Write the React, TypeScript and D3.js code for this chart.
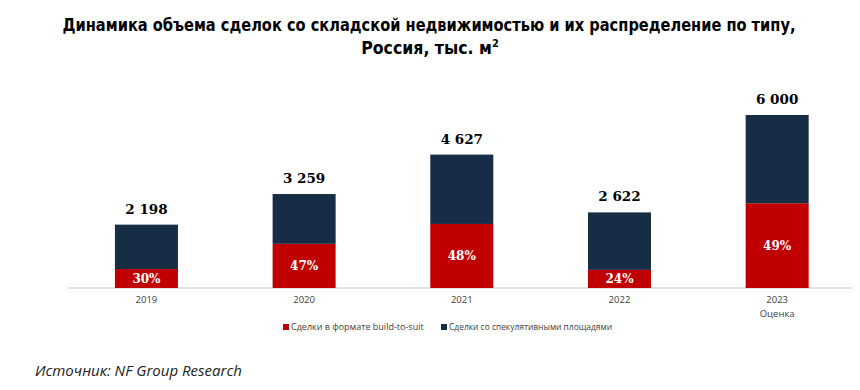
import React from "react";
import { scaleBand, scaleLinear, stack, format } from "d3";

const years = ["2019", "2020", "2021", "2022", "2023"];
const subLabels = ["", "", "", "", "Оценка"];
const totals = [2198, 3259, 4627, 2622, 6000];
const btsShare = [30, 47, 48, 24, 49];
const seriesNames = ["Сделки в формате build-to-suit", "Сделки со спекулятивными площадями"];
const colors = ["#c00000", "#172c45"];

const W = 860;
const H = 390;
const baseY = 288;

const fmt = (v: number) => format(",")(v).replace(/,/g, " ");

const App = () => {
  const rows = years.map((y, i) => {
    const bts = (totals[i] * btsShare[i]) / 100;
    return { year: y, bts, spec: totals[i] - bts };
  });

  // category slots, bars drawn 63px wide at the slot centres
  const xs = scaleBand().domain(years).range([67.6, 856]);
  const bw = 63;
  const y = scaleLinear().domain([0, 6000]).range([baseY, 115]);

  const layers = stack<any>().keys(["bts", "spec"])(rows);

  return (
    <svg width={W} height={H} style={{ position: "absolute", left: 0, top: 0, background: "#fff" }}>
      <g fontFamily="'Liberation Sans Narrow', 'DejaVu Sans Condensed', sans-serif" fontWeight="bold" fontSize="17.5" textAnchor="middle" fill="#000">
        <text x={429} y={31} textLength={733} lengthAdjust="spacingAndGlyphs">
          Динамика объема сделок со складской недвижимостью и их распределение по типу,
        </text>
        <text x={430} y={54}>
          Россия, тыс. м<tspan fontSize="11" dy="-7">2</tspan>
        </text>
      </g>

      <line x1={68} x2={852} y1={baseY} y2={baseY} stroke="#d9d9d9" strokeWidth={1.5} />

      {layers.map((layer, li) => (
        <g key={li} fill={colors[li]}>
          {layer.map((d: any, i: number) => {
            const cx = (xs(years[i]) as number) + xs.bandwidth() / 2;
            return <rect key={i} x={cx - bw / 2} width={bw} y={y(d[1])} height={y(d[0]) - y(d[1])} />;
          })}
        </g>
      ))}

      {rows.map((r, i) => {
        const cx = (xs(r.year) as number) + xs.bandwidth() / 2;
        return (
          <g key={r.year} textAnchor="middle">
            <text x={cx} y={y(totals[i]) - 11} fontFamily="'DejaVu Serif', serif" fontWeight="bold" fontSize="13.5" fill="#000">
              {fmt(totals[i])}
            </text>
            <text x={cx} y={(y(0) + y(r.bts)) / 2 + 4.5} fontFamily="'DejaVu Serif', serif" fontWeight="bold" fontSize="12" fill="#fff">
              {btsShare[i]}%
            </text>
            <text x={cx} y={303} fontFamily="'Open Sans', sans-serif" fontSize="9.5" fill="#404040">
              {r.year}
            </text>
            {subLabels[i] && (
              <text x={cx} y={317} fontFamily="'Open Sans', sans-serif" fontSize="9.5" fill="#404040">
                {subLabels[i]}
              </text>
            )}
          </g>
        );
      })}

      <g fontFamily="'Open Sans', sans-serif" fontSize="9" fill="#404040">
        <rect x={283} y={324} width={6} height={6} fill={colors[0]} />
        <text x={291} y={330}>{seriesNames[0]}</text>
        <rect x={441} y={324} width={6} height={6} fill={colors[1]} />
        <text x={449} y={330} textLength={163} lengthAdjust="spacingAndGlyphs">{seriesNames[1]}</text>
      </g>

      <text x={35} y={376} fontFamily="'Open Sans', sans-serif" fontStyle="italic" fontSize="15" fill="#222">
        Источник: NF Group Research
      </text>
    </svg>
  );
};

export default App;
